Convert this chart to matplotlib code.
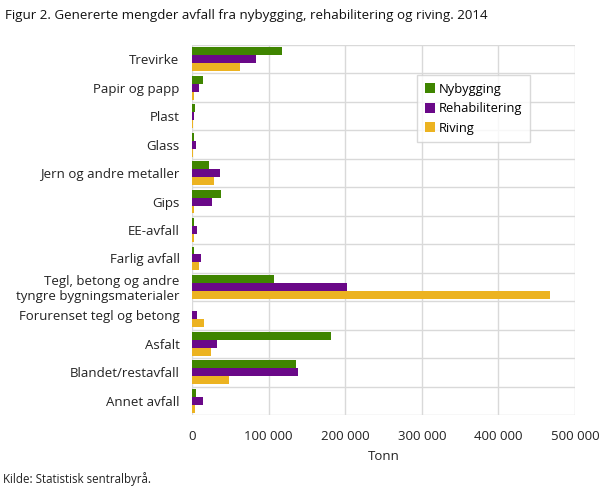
import matplotlib
matplotlib.use('Agg')
import matplotlib.pyplot as plt
from matplotlib import font_manager
import numpy as np

plt.rcParams['font.family'] = ['Open Sans', 'DejaVu Sans']

# 数据 (tonn)
kategorier = ['Trevirke', 'Papir og papp', 'Plast', 'Glass', 'Jern og andre metaller',
              'Gips', 'EE-avfall', 'Farlig avfall',
              'Tegl, betong og andre\ntyngre bygningsmaterialer',
              'Forurenset tegl og betong', 'Asfalt', 'Blandet/restavfall', 'Annet avfall']
nybygging = [118000, 14000, 3500, 2000, 22000, 38000, 2500, 2000, 107000, 500, 182000, 136000, 5000]
rehabilitering = [84000, 9000, 2500, 5000, 37000, 26000, 6500, 12000, 203000, 6000, 33000, 138000, 14000]
riving = [63000, 2500, 1000, 1000, 29000, 2500, 2500, 9000, 468000, 16000, 25000, 48000, 4000]
serier = ['Nybygging', 'Rehabilitering', 'Riving']
farger = ['#3f8500', '#6a0888', '#ecb321']
xticks = [0, 100000, 200000, 300000, 400000, 500000]
xtick_labels = ['0', '100 000', '200 000', '300 000', '400 000', '500 000']

# smal skrift til tittelen hvis den finnes
navn_fonter = {f.name for f in font_manager.fontManager.ttflist}
if 'Liberation Sans Narrow' in navn_fonter:
    tittel_font = ['Liberation Sans Narrow', 'DejaVu Sans']
    tittel_str = 11.5
else:
    tittel_font = ['Open Sans', 'DejaVu Sans']
    tittel_str = 9.6

fig = plt.figure(figsize=(6.09, 4.88), dpi=100)
ax = fig.add_axes([192 / 609, 73 / 488, 383 / 609, 370 / 488])

y = np.arange(len(kategorier))
h = 0.28
for i, (verdier, navn, farge) in enumerate(zip([nybygging, rehabilitering, riving], serier, farger)):
    ax.barh(y + (i - 1) * h, verdier, height=h, color=farge, label=navn, zorder=3)

ax.set_ylim(len(kategorier) - 0.5, -0.5)
ax.set_xlim(0, 500000)
ax.set_yticks(y)
ax.set_yticklabels(kategorier, fontsize=9.5, color='#222222', linespacing=1.15)
ax.set_xticks(xticks)
ax.set_xticklabels(xtick_labels, fontsize=9.5, color='#222222')
ax.tick_params(length=0, pad=9)
ax.tick_params(axis='x', pad=11)

# rutenett på kategorigrensene
for b in np.arange(-0.5, len(kategorier), 1):
    ax.axhline(b, color='#d9d9d9', lw=1, zorder=1)
for xv in xticks:
    ax.axvline(xv, color='#d9d9d9', lw=1, zorder=1)
for s in ax.spines.values():
    s.set_visible(False)

ax.set_xlabel('Tonn', fontsize=9.5, color='#222222', labelpad=5)

leg = ax.legend(loc='upper left', bbox_to_anchor=((417 - 192) / 383, (415 - 75) / 370),
                fontsize=9.3, frameon=True, fancybox=False, handlelength=0.8, handleheight=0.8,
                handletextpad=0.3, labelspacing=0.5, borderpad=0.6, borderaxespad=0)
leg.get_frame().set_edgecolor('#d0d0d0')
leg.get_frame().set_linewidth(1)

fig.text(5 / 609, 1 - 16 / 488, 'Figur 2. Genererte mengder avfall fra nybygging, rehabilitering og riving. 2014',
         fontsize=tittel_str, family=tittel_font, va='center', ha='left', color='#111111')
fig.text(3 / 609, 1 - 479 / 488, 'Kilde: Statistisk sentralbyrå.', fontsize=8.3, va='center', ha='left',
         color='#222222')

fig.savefig('out.png', dpi=100)
